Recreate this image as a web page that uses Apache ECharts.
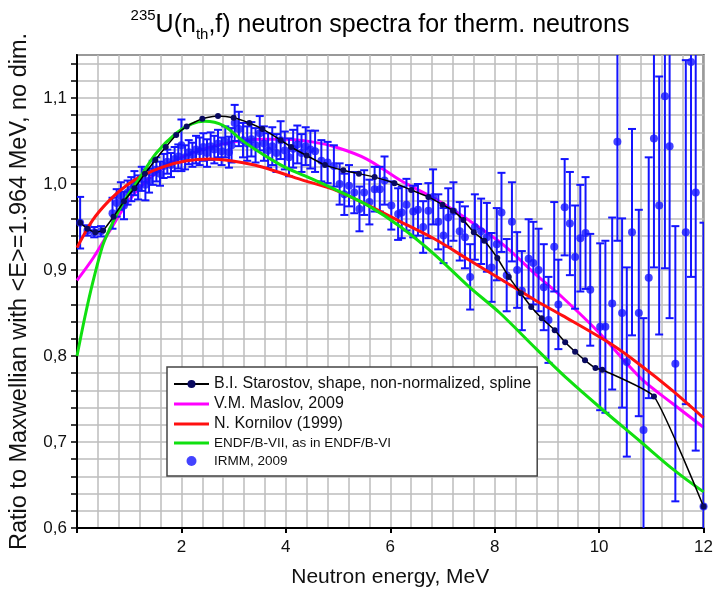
<!DOCTYPE html>
<html><head><meta charset="utf-8">
<script src="https://cdn.jsdelivr.net/npm/echarts@6/dist/echarts.min.js"></script>
<style>html,body{margin:0;padding:0;background:#fff}#c{width:716px;height:593px}</style>
</head><body><div id="c"></div>
<script>
// ---- tick labels ----
const xTickValues = [2, 4, 6, 8, 10, 12];
const xTickLabels = ['2', '4', '6', '8', '10', '12'];
const yTickValues = [0.6, 0.7, 0.8, 0.9, 1.0, 1.1];
const yTickLabels = ['0,6', '0,7', '0,8', '0,9', '1,0', '1,1'];

// ---- B.I. Starostov spline (with points) ----
const starE = [0.06,0.2,0.35,0.5,0.7,0.9,1.1,1.3,1.5,1.7,1.9,2.1,2.4,2.7,3.0,3.3,3.55,3.9,4.1,4.4,4.75,5.1,5.4,5.7,6.08,6.4,6.73,7.0,7.2,7.4,7.6,7.8,8.05,8.27,8.5,8.7,8.9,9.15,9.35,9.54,9.73,9.93,10.06,11.05,12.0];
const starV = [0.955,0.948,0.944,0.946,0.962,0.980,0.995,1.012,1.028,1.043,1.057,1.067,1.076,1.079,1.077,1.071,1.064,1.051,1.043,1.033,1.022,1.016,1.012,1.008,1.001,0.993,0.985,0.976,0.969,0.958,0.944,0.934,0.914,0.892,0.873,0.857,0.844,0.830,0.816,0.805,0.795,0.786,0.784,0.753,0.625];

// ---- V.M. Maslov, 2009 ----
const maslovE = [0,0.31,0.63,0.96,1.3,1.65,2.0,2.5,3.0,3.5,4.0,4.5,4.95,5.55,6.2,6.85,7.5,8.15,8.8,9.3,10.0,10.8,11.4,12.0];
const maslovV = [0.888,0.914,0.946,0.978,1.002,1.019,1.031,1.042,1.049,1.052,1.052,1.049,1.043,1.029,1.004,0.983,0.958,0.930,0.894,0.868,0.827,0.774,0.745,0.717];

// ---- N. Kornilov (1999) ----
const kornE = [0,0.3,0.62,0.94,1.26,1.65,2.1,2.55,2.95,3.4,3.85,4.35,4.9,5.55,6.2,6.85,7.5,8.15,8.8,9.3,10.2,10.8,11.4,12.0];
const kornV = [0.926,0.958,0.981,0.998,1.010,1.020,1.027,1.029,1.027,1.022,1.014,1.004,0.994,0.976,0.956,0.936,0.912,0.888,0.864,0.847,0.815,0.789,0.760,0.728];

// ---- ENDF/B-VII ----
const endfE = [0,0.15,0.3,0.49,0.62,0.88,1.2,1.52,1.9,2.2,2.45,2.8,3.2,3.6,4.0,4.5,5.0,5.6,6.2,6.85,7.5,8.1,8.8,9.4,10.0,10.8,11.4,12.0];
const endfV = [0.800,0.845,0.885,0.928,0.947,0.978,1.007,1.036,1.059,1.070,1.073,1.068,1.049,1.033,1.019,1.006,0.992,0.974,0.950,0.918,0.881,0.850,0.808,0.773,0.741,0.700,0.669,0.642];

// ---- IRMM, 2009 (value and error) ----
const irmmE = [0.06,0.20,0.33,0.46,0.68,0.76,0.84,0.90,0.97,1.04,1.10,1.17,1.24,1.31,1.38,1.45,1.52,1.59,1.66,1.73,1.80,1.87,1.94,2.00,2.07,2.14,2.21,2.28,2.35,2.42,2.49,2.56,2.63,2.70,2.77,2.84,2.91,2.96,3.02,3.10,3.18,3.26,3.34,3.42,3.50,3.58,3.66,3.74,3.82,3.90,3.98,4.06,4.14,4.22,4.30,4.38,4.47,4.56,4.68,4.80,4.92,5.03,5.12,5.21,5.31,5.41,5.50,5.60,5.70,5.80,5.89,6.02,6.15,6.22,6.31,6.44,6.53,6.63,6.73,6.82,6.92,7.02,7.11,7.21,7.33,7.43,7.53,7.62,7.74,7.85,7.94,8.04,8.13,8.23,8.33,8.43,8.52,8.65,8.74,8.84,8.94,9.03,9.14,9.22,9.34,9.44,9.54,9.64,9.74,9.83,10.02,10.12,10.25,10.35,10.44,10.53,10.63,10.76,10.85,10.95,11.05,11.15,11.26,11.35,11.46,11.66,11.76,11.85,12.00];
const irmmV = [0.955,0.946,0.944,0.945,0.966,0.978,0.986,0.975,0.990,0.994,1.001,0.996,1.006,0.999,1.004,1.013,1.017,1.012,1.021,1.026,1.022,1.029,1.032,1.045,1.031,1.037,1.034,1.040,1.038,1.043,1.036,1.044,1.040,1.047,1.038,1.049,1.037,1.045,1.071,1.064,1.051,1.047,1.052,1.045,1.059,1.047,1.039,1.044,1.036,1.051,1.039,1.031,1.041,1.046,1.036,1.044,1.040,1.038,1.027,1.025,1.021,1.000,0.988,0.998,0.990,0.971,0.990,0.979,0.994,0.994,1.004,0.975,0.965,0.967,0.976,0.968,0.970,0.950,0.969,0.985,0.956,0.940,0.961,0.968,0.945,0.938,0.892,0.950,0.945,0.938,0.903,0.930,0.967,0.894,0.956,0.900,0.876,0.913,0.908,0.900,0.880,0.842,0.927,0.860,0.973,0.954,0.915,0.937,0.943,0.877,0.834,0.834,0.861,1.049,0.850,0.793,0.944,0.850,0.714,0.891,1.053,0.975,1.102,1.044,0.791,0.944,1.142,0.990,0.625];
const irmmErr = [0.030,0.006,0.006,0.006,0.018,0.016,0.016,0.016,0.014,0.014,0.014,0.014,0.014,0.018,0.014,0.014,0.014,0.014,0.014,0.014,0.014,0.014,0.014,0.030,0.014,0.014,0.014,0.016,0.016,0.016,0.016,0.016,0.016,0.016,0.016,0.018,0.018,0.020,0.021,0.020,0.020,0.020,0.020,0.020,0.020,0.020,0.020,0.022,0.022,0.022,0.022,0.022,0.022,0.022,0.022,0.022,0.022,0.024,0.024,0.024,0.024,0.024,0.024,0.024,0.024,0.026,0.026,0.026,0.026,0.026,0.028,0.028,0.030,0.030,0.030,0.030,0.030,0.030,0.032,0.032,0.032,0.032,0.034,0.034,0.034,0.036,0.038,0.038,0.038,0.040,0.040,0.042,0.046,0.042,0.046,0.044,0.046,0.046,0.048,0.048,0.050,0.050,0.052,0.052,0.056,0.060,0.060,0.062,0.065,0.065,0.097,0.100,0.100,0.115,0.110,0.110,0.120,0.120,0.130,0.140,0.150,0.150,0.200,0.200,0.160,0.200,0.250,0.300,0.330];

const FONT = "'Liberation Sans', Arial, sans-serif";
const zip = (a, b) => a.map((v, i) => [v, b[i]]);
const LINE_ICON = 'path://M0,0H38V3H0Z';

const chart = echarts.init(document.getElementById('c'), null, {renderer: 'canvas'});
const gridColor = '#bdbdbd';

chart.setOption({
  animation: false,
  backgroundColor: '#fff',
  graphic: [{
    type: 'text', x: 380, y: 8,
    style: {
      text: '{sup|235}{n|U(n}{sub|th}{n|,f) neutron spectra for therm. neutrons}',
      textAlign: 'center',
      rich: {
        n: {fontFamily: FONT, fontSize: 25, color: '#111', lineHeight: 34, verticalAlign: 'middle'},
        sup: {fontFamily: FONT, fontSize: 15, color: '#111', lineHeight: 18, verticalAlign: 'top'},
        sub: {fontFamily: FONT, fontSize: 15, color: '#111', lineHeight: 16, verticalAlign: 'bottom'}
      }
    }
  }],
  grid: {left: 76, right: 12, top: 55, bottom: 65, show: true, borderColor: '#333', borderWidth: 2, backgroundColor: 'transparent'},
  xAxis: {
    type: 'value', min: 0, max: 12, interval: 2,
    name: 'Neutron energy, MeV', nameLocation: 'middle', nameGap: 39,
    nameTextStyle: {fontFamily: FONT, fontSize: 21, color: '#111'},
    axisLine: {show: true, onZero: false, lineStyle: {color: '#000', width: 2}},
    axisTick: {show: true, length: 5, lineStyle: {color: '#000', width: 2}},
    axisLabel: {fontFamily: FONT, fontSize: 17, color: '#111', margin: 11,
      formatter: v => { const i = xTickValues.findIndex(t => Math.abs(t - v) < 1e-6); return i >= 0 ? xTickLabels[i] : ''; }},
    splitLine: {show: true, lineStyle: {color: gridColor, width: 1.5}},
    minorTick: {show: false, splitNumber: 5},
    minorSplitLine: {show: true, lineStyle: {color: gridColor, width: 1.5}}
  },
  yAxis: {
    type: 'value', min: 0.6, max: 1.15, interval: 0.02,
    name: 'Ratio to Maxwellian with <E>=1.964 MeV, no dim.', nameLocation: 'middle', nameGap: 45,
    nameTextStyle: {fontFamily: FONT, fontSize: 23.5, color: '#111'},
    axisLine: {show: true, onZero: false, lineStyle: {color: '#000', width: 2}},
    axisTick: {show: true, length: 6, lineStyle: {color: '#000', width: 1.5}},
    axisLabel: {fontFamily: FONT, fontSize: 17, color: '#111', margin: 10, showMaxLabel: false,
      formatter: v => { const i = yTickValues.findIndex(t => Math.abs(t - v) < 1e-6); return i >= 0 ? yTickLabels[i] : ''; }},
    splitLine: {show: true, lineStyle: {color: gridColor, width: 1.5}}
  },
  legend: {
    orient: 'vertical', left: 167, top: 367,
    backgroundColor: '#fff', borderColor: '#444', borderWidth: 1.5,
    padding: [9, 6, 8, 6], itemGap: 4, itemWidth: 35, itemHeight: 10,
    selectedMode: false,
    textStyle: {fontFamily: FONT, fontSize: 16, color: '#111'},
    data: [
      {name: 'B.I. Starostov, shape, non-normalized, spline'},
      {name: 'V.M. Maslov, 2009', icon: LINE_ICON},
      {name: 'N. Kornilov (1999)', icon: LINE_ICON},
      {name: 'ENDF/B-VII, as in ENDF/B-VI', icon: LINE_ICON, textStyle: {fontSize: 13.5}},
      {name: 'IRMM, 2009', icon: 'circle', textStyle: {fontSize: 13.5}}
    ]
  },
  series: [
    {name: 'V.M. Maslov, 2009', type: 'line', data: zip(maslovE, maslovV), smooth: 0.3, symbol: 'none',
     lineStyle: {color: '#ff00ff', width: 3}, itemStyle: {color: '#ff00ff'}, z: 1},
    {name: 'IRMM err', type: 'custom', clip: true, z: 2,
     data: irmmE.map((e, i) => [e, irmmV[i] - irmmErr[i], irmmV[i] + irmmErr[i]]),
     encode: {x: 0, y: [1, 2]},
     renderItem: (params, api) => {
       const x = api.value(0);
       const p1 = api.coord([x, api.value(1)]);
       const p2 = api.coord([x, api.value(2)]);
       const w = 4;
       const st = {stroke: '#1414ff', lineWidth: 2};
       return {type: 'group', children: [
         {type: 'line', shape: {x1: p1[0], y1: p1[1], x2: p2[0], y2: p2[1]}, style: st},
         {type: 'line', shape: {x1: p1[0] - w, y1: p1[1], x2: p1[0] + w, y2: p1[1]}, style: st},
         {type: 'line', shape: {x1: p2[0] - w, y1: p2[1], x2: p2[0] + w, y2: p2[1]}, style: st}
       ]};
     }},
    {name: 'IRMM, 2009', type: 'scatter', data: zip(irmmE, irmmV), symbol: 'circle', symbolSize: 8,
     itemStyle: {color: '#1414ff'}, z: 3},
    {name: 'N. Kornilov (1999)', type: 'line', data: zip(kornE, kornV), smooth: 0.3, symbol: 'none',
     lineStyle: {color: '#ff1010', width: 3}, itemStyle: {color: '#ff1010'}, z: 4},
    {name: 'ENDF/B-VII, as in ENDF/B-VI', type: 'line', data: zip(endfE, endfV), smooth: 0.3, symbol: 'none',
     lineStyle: {color: '#10e010', width: 3}, itemStyle: {color: '#10e010'}, z: 5},
    {name: 'B.I. Starostov, shape, non-normalized, spline', type: 'line', data: zip(starE, starV), smooth: 0.15,
     symbol: 'circle', symbolSize: 6, showSymbol: true,
     lineStyle: {color: '#000', width: 1.5}, itemStyle: {color: '#0a0a60', borderWidth: 0}, z: 6}
  ]
});
</script>
</body></html>
